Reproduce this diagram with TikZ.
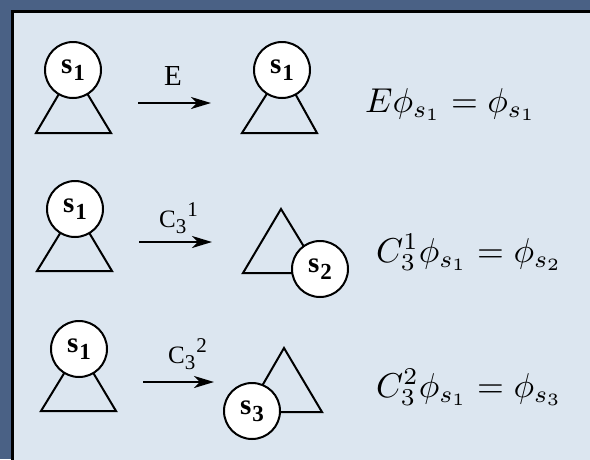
\documentclass[tikz,border=0pt]{standalone}
\usepackage{graphicx}
\usepackage{fontspec}
\newfontfamily\timesfont{Liberation Serif}
\usetikzlibrary{arrows.meta}
\definecolor{bgblue}{RGB}{74,97,133}
\definecolor{panelblue}{RGB}{220,230,240}
\tikzset{
  site/.style={circle,draw=black,line width=2pt,fill=white,minimum size=56pt,inner sep=0pt,font=\timesfont\bfseries\fontsize{29}{29}\selectfont},
  tri/.style={draw=black,line width=2pt,line join=miter},
  oparrow/.style={line width=2.5pt,-{Stealth[length=20pt,width=12pt,inset=6pt]}},
  oplabel/.style={anchor=base,inner sep=0pt,font=\timesfont\fontsize{25}{25}\selectfont},
  eqn/.style={anchor=base west,inner sep=0pt}
}
\newcommand{\sitelab}[1]{s\kern1pt\raisebox{-7pt}{\fontsize{23}{23}\selectfont #1}}
\newcommand{\oplab}[1]{C\raisebox{-6pt}{\fontsize{21}{21}\selectfont 3}\kern1pt\raisebox{11pt}{\fontsize{21}{21}\selectfont #1}}
\newcommand{\bigeq}[1]{\scalebox{3.45}{$#1$}}
\begin{document}
\begin{tikzpicture}[x=1pt,y=-1pt]
\useasboundingbox (0,0) rectangle (590,459);
\fill[bgblue] (0,0) rectangle (590,459);
\draw[fill=panelblue,line width=3pt] (12.5,11.5) rectangle (610,480);
% ---- row 1
\coordinate (c1a) at (73,70);
\draw[tri] (c1a) -- (36,133) -- (111,133) -- cycle;
\node[site] (s1a) at (c1a) {\sitelab{1}};
\coordinate (a1s) at (138,103);
\coordinate (a1e) at (211,103);
\draw[oparrow] (a1s) -- (a1e);
\node[oplabel,font=\timesfont\fontsize{29}{29}\selectfont] (l1) at (173,85) {E};
\coordinate (c1b) at (282,70);
\draw[tri] (c1b) -- (242,133) -- (317,133) -- cycle;
\node[site] (s1b) at (c1b) {\sitelab{1}};
\node[eqn] (e1) at (365,112) {\bigeq{E\phi_{s_1}=\phi_{s_1}}};
% ---- row 2
\coordinate (c2a) at (75,209);
\draw[tri] (c2a) -- (37,271) -- (112,271) -- cycle;
\node[site] (s2a) at (c2a) {\sitelab{1}};
\coordinate (a2s) at (139,242);
\coordinate (a2e) at (212,242);
\draw[oparrow] (a2s) -- (a2e);
\node[oplabel,anchor=base west] (l2) at (159,227) {\oplab{1}};
\coordinate (c2b) at (320,269);
\draw[tri] (281,209) -- (243,273) -- (320,273) -- cycle;
\node[site] (s2b) at (c2b) {\sitelab{2}};
\node[eqn] (e2) at (376,262) {\bigeq{C_3^1\phi_{s_1}=\phi_{s_2}}};
% ---- row 3
\coordinate (c3a) at (79,349);
\draw[tri] (c3a) -- (41,411) -- (116,411) -- cycle;
\node[site] (s3a) at (c3a) {\sitelab{1}};
\coordinate (a3s) at (143,382);
\coordinate (a3e) at (214,382);
\draw[oparrow] (a3s) -- (a3e);
\node[oplabel,anchor=base west] (l3) at (168,363) {\oplab{2}};
\coordinate (c3b) at (252,411);
\draw[tri] (284,348) -- (322,412) -- (247,412) -- cycle;
\node[site] (s3b) at (c3b) {\sitelab{3}};
\node[eqn] (e3) at (376,397) {\bigeq{C_3^2\phi_{s_1}=\phi_{s_3}}};
\end{tikzpicture}
\end{document}
